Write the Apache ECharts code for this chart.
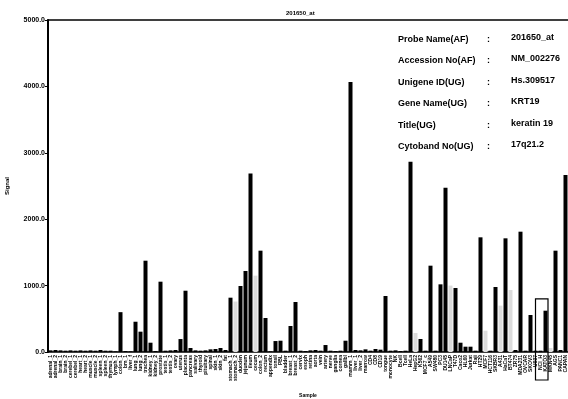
<!DOCTYPE html>
<html>
<head>
<meta charset="utf-8">
<script src="https://cdn.jsdelivr.net/npm/echarts@6/dist/echarts.min.js"></script>
<style>
  html, body { margin: 0; padding: 0; background: #fff; }
  #chart { width: 568px; height: 399px; }
</style>
</head>
<body>
<div id="chart"></div>
<script>
// sample names (unreadable in the scan, kept short)
const samples = [
  "adrenal_1", "adrenal_2", "brain_1", "brain_2", "cerebel_1", "cerebel_2", "heart_1", "heart_2",
  "muscle_1", "muscle_2", "spleen_1", "spleen_2", "thymus_1", "lymph_1", "colon_1", "bm_1",
  "liver_f", "lung_1", "lung_2", "trachea", "kidney_1", "kidney_2", "prostate", "testis_1",
  "testis_2", "ovary", "uterus", "placenta", "pancreas", "salivary", "thyroid", "pituitary",
  "spinal", "skin_1", "skin_2", "fat", "stomach_1", "stomach_2", "duoden", "jejunum",
  "ileum", "cecum", "colon_2", "rectum", "appendix", "tonsil", "PBL", "bladder",
  "breast_1", "breast_2", "cervix", "esoph", "retina", "aorta", "vein", "artery",
  "nerve", "ganglia", "cornea", "gallbl", "mamm_1", "liver_1", "liver_2", "marrow",
  "CD4", "CD8", "CD19", "tongue", "monocyte", "NK", "Bcell", "Tcell",
  "HeLa", "HepG2", "K562", "MCF7_c", "A549", "SW480", "PC3", "DU145",
  "LNCaP", "T47D", "Caco2", "HL60", "Jurkat", "Raji", "HT29", "MCF7",
  "HCT116", "SKBR3", "A431", "HaCaT", "BT474", "ZR75", "MDA231", "OVCAR",
  "SKOV3", "U937", "NCI_H", "KATO3", "MKN45", "AGS", "PANC1", "CAPAN"
];

const signal = [
  25, 30, 25, 20, 25, 20, 25, 20, 25, 20, 30, 20, 20, 10, 600, 15,
  10, 456, 306, 1375, 140, 15, 1059, 20, 25, 30, 195, 923, 60, 25,
  20, 25, 40, 45, 60, 30, 818, 760, 994, 1220, 2690, 1150, 1526, 512,
  10, 165, 170, 20, 392, 753, 20, 15, 25, 30, 20, 105, 20, 15,
  20, 170, 4066, 30, 25, 40, 20, 45, 35, 843, 20, 25, 15, 20,
  2866, 286, 196, 20, 1300, 20, 1019, 2475, 1000, 964, 140, 80, 80, 20,
  1727, 321, 20, 979, 698, 1712, 934, 30, 1812, 20, 557, 20, 20, 622,
  60, 1526, 30, 2666
];

// samples drawn in the pale group
const paleGroup = [37, 41, 73, 80, 87, 90, 92, 100];

const yTicks = [0, 1000, 2000, 3000, 4000, 5000];

const infoLabels = ["Probe Name(AF)", "Accession No(AF)", "Unigene ID(UG)", "Gene Name(UG)", "Title(UG)", "Cytoband No(UG)"];
const infoValues = ["201650_at", "NM_002276", "Hs.309517", "KRT19", "keratin 19", "17q21.2"];

// boxed samples
const boxed = [98, 99];
const boxTop = 800;

const chart = echarts.init(document.getElementById("chart"));

const font = "'Liberation Sans', Arial, sans-serif";

const infoGraphics = [];
infoLabels.forEach((t, i) => {
  const y = 41 + i * 21.5;
  infoGraphics.push(
    { type: "text", left: 398, top: y - 6, style: { text: t, font: "bold 9px " + font, fill: "#000" } },
    { type: "text", left: 487, top: y - 6, style: { text: ":", font: "bold 9px " + font, fill: "#000" } },
    { type: "text", left: 511, top: y - 8, style: { text: infoValues[i], font: "bold 9px " + font, fill: "#000" } }
  );
});

chart.setOption({
  animation: false,
  backgroundColor: "#fff",
  title: {
    text: "201650_at",
    left: 281,
    top: 5,
    textStyle: { fontSize: 6, fontWeight: "bold", color: "#000", fontFamily: font },
  },
  grid: { left: 48, right: 0, top: 20, bottom: 47, containLabel: false, outerBoundsMode: "none" },
  xAxis: [
    {
      type: "category",
      data: samples,
      name: "Sample",
      nameLocation: "middle",
      nameGap: 41,
      nameTextStyle: { fontSize: 5, fontWeight: "bold", color: "#000", fontFamily: font },
      axisLine: { lineStyle: { color: "#000", width: 1.5 } },
      axisTick: { show: false },
      axisLabel: {
        interval: 0,
        rotate: 90,
        fontSize: 5,
        margin: 3,
        color: "#000",
        fontFamily: font,
        fontWeight: "bold",
      },
    },
    {
      type: "category",
      position: "top",
      data: samples,
      axisLine: { lineStyle: { color: "#000", width: 1.5 } },
      axisTick: { show: false },
      axisLabel: { show: false },
    },
  ],
  yAxis: {
    type: "value",
    min: yTicks[0],
    max: yTicks[yTicks.length - 1],
    interval: 1000,
    name: "Signal",
    nameLocation: "middle",
    nameGap: 38,
    nameTextStyle: { fontSize: 6, fontWeight: "bold", color: "#000", fontFamily: font },
    axisLine: { show: true, lineStyle: { color: "#000", width: 2 } },
    axisTick: { show: true, length: 3, lineStyle: { color: "#000" } },
    splitLine: { show: false },
    axisLabel: {
      fontSize: 7,
      fontWeight: "bold",
      color: "#000",
      fontFamily: font,
      margin: 3,
      formatter: (v) => v.toFixed(1),
    },
  },
  series: [
    {
      type: "bar",
      barWidth: 4,
      data: signal.map((v, i) => ({
        value: v,
        itemStyle: { color: paleGroup.includes(i) ? "#dcdcdc" : "#000" },
      })),
    },
  ],
  graphic: infoGraphics,
});

// outline around the boxed samples
const p0 = chart.convertToPixel({ xAxisIndex: 0, yAxisIndex: 0 }, [boxed[0], boxTop]);
const p1 = chart.convertToPixel({ xAxisIndex: 0, yAxisIndex: 0 }, [boxed[1], 0]);
chart.setOption({
  graphic: infoGraphics.concat([
    {
      type: "rect",
      shape: { x: p0[0] - 5, y: p0[1], width: p1[0] - p0[0] + 7.5, height: p1[1] - p0[1] + 28 },
      style: { fill: "none", stroke: "#000", lineWidth: 1.2 },
      z: 10,
    },
  ]),
});
</script>
</body>
</html>
